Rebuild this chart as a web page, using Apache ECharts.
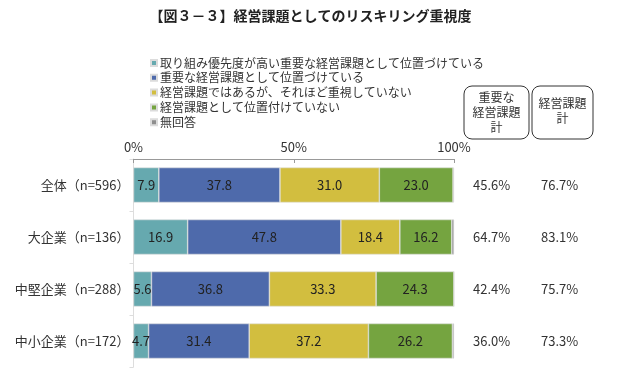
<!DOCTYPE html>
<html>
<head>
<meta charset="utf-8">
<script src="https://cdn.jsdelivr.net/npm/echarts@6/dist/echarts.min.js"></script>
<style>
html,body{margin:0;padding:0;background:#fff;}
#c{width:621px;height:373px;}
</style>
</head>
<body>
<div id="c"></div>
<script>
const categories = ['全体（n=596）', '大企業（n=136）', '中堅企業（n=288）', '中小企業（n=172）'];
const seriesNames = ['取り組み優先度が高い重要な経営課題として位置づけている', '重要な経営課題として位置づけている', '経営課題ではあるが、それほど重視していない', '経営課題として位置付けていない', '無回答'];
const topPriority = [7.9, 16.9, 5.6, 4.7];
const important = [37.8, 47.8, 36.8, 31.4];
const notMuch = [31.0, 18.4, 33.3, 37.2];
const notPositioned = [23.0, 16.2, 24.3, 26.2];
const noAnswer = [0.3, 0.7, 0.0, 0.5];
const importantTotal = ['45.6%', '64.7%', '42.4%', '36.0%'];
const mgmtTotal = ['76.7%', '83.1%', '75.7%', '73.3%'];
const xTicks = [0, 50, 100];

const colors = ['#66A9AF', '#4E6AAB', '#D2BE3F', '#75A440', '#8E8E8E'];
const FONT = '"Noto Sans CJK JP", "Noto Sans", sans-serif';
const values = [topPriority, important, notMuch, notPositioned, noAnswer];

const chart = echarts.init(document.getElementById('c'));
const series = values.map((v, i) => ({
  name: seriesNames[i],
  type: 'bar',
  stack: 'total',
  barWidth: 35,
  data: v,
  itemStyle: { color: colors[i], borderColor: '#dcdcdc', borderWidth: 0.6 },
  label: {
    show: i < 4,
    position: 'inside',
    color: '#222',
    fontSize: 13,
    fontFamily: FONT,
    formatter: p => p.value.toFixed(1)
  },
  emphasis: { disabled: true }
}));

chart.setOption({
  animation: false,
  textStyle: { fontFamily: FONT },
  title: {
    text: '【図３－３】経営課題としてのリスキリング重視度',
    left: 'center',
    top: 4,
    textStyle: { fontSize: 14, fontWeight: 'bold', color: '#222', fontFamily: FONT }
  },
  legend: {
    orient: 'vertical',
    left: 145,
    top: 52,
    itemWidth: 6,
    itemHeight: 6,
    itemGap: 2.8,
    icon: 'rect',
    selectedMode: false,
    data: seriesNames,
    textStyle: { fontSize: 12, color: '#333', fontFamily: FONT, padding: [0, 0, 0, -2] }
  },
  grid: { left: 133.5, right: 167, top: 159, bottom: 6, containLabel: false },
  xAxis: {
    type: 'value',
    position: 'top',
    min: xTicks[0],
    max: xTicks[xTicks.length - 1],
    interval: 50,
    splitLine: { show: false },
    axisLine: { show: true, lineStyle: { color: '#999', width: 1.2 } },
    axisTick: { show: true, inside: true, length: 4, lineStyle: { color: '#999' } },
    axisLabel: { margin: 5, fontSize: 13, color: '#333', fontFamily: FONT, formatter: '{value}%' }
  },
  yAxis: [
    {
      type: 'category',
      inverse: true,
      data: categories,
      axisLine: { show: true, lineStyle: { color: '#ddd', width: 1 } },
      axisTick: { show: true, length: 4, lineStyle: { color: '#ddd' } },
      axisLabel: { margin: 4, fontSize: 13, color: '#333', fontFamily: FONT }
    },
    {
      type: 'category',
      inverse: true,
      position: 'right',
      data: importantTotal,
      axisLine: { show: false },
      axisTick: { show: false },
      axisLabel: { margin: 19, fontSize: 13, color: '#333', fontFamily: FONT }
    },
    {
      type: 'category',
      inverse: true,
      position: 'right',
      offset: 0,
      data: mgmtTotal,
      axisLine: { show: false },
      axisTick: { show: false },
      axisLabel: { margin: 87, fontSize: 13, color: '#333', fontFamily: FONT }
    }
  ],
  series: series,
  graphic: [
    { type: 'rect', shape: { x: 464, y: 86, width: 65, height: 53, r: 8 }, style: { fill: '#fff', stroke: '#333', lineWidth: 1 } },
    { type: 'rect', shape: { x: 532, y: 86, width: 61, height: 53, r: 8 }, style: { fill: '#fff', stroke: '#333', lineWidth: 1 } },
    { type: 'text', x: 496.5, y: 112.5, style: { text: '重要な\n経営課題\n計', fill: '#333', fontSize: 12, lineHeight: 15, fontFamily: FONT, align: 'center', verticalAlign: 'middle' } },
    { type: 'text', x: 562.5, y: 111, style: { text: '経営課題\n計', fill: '#333', fontSize: 12, lineHeight: 15, fontFamily: FONT, align: 'center', verticalAlign: 'middle' } }
  ]
});
</script>
</body>
</html>
